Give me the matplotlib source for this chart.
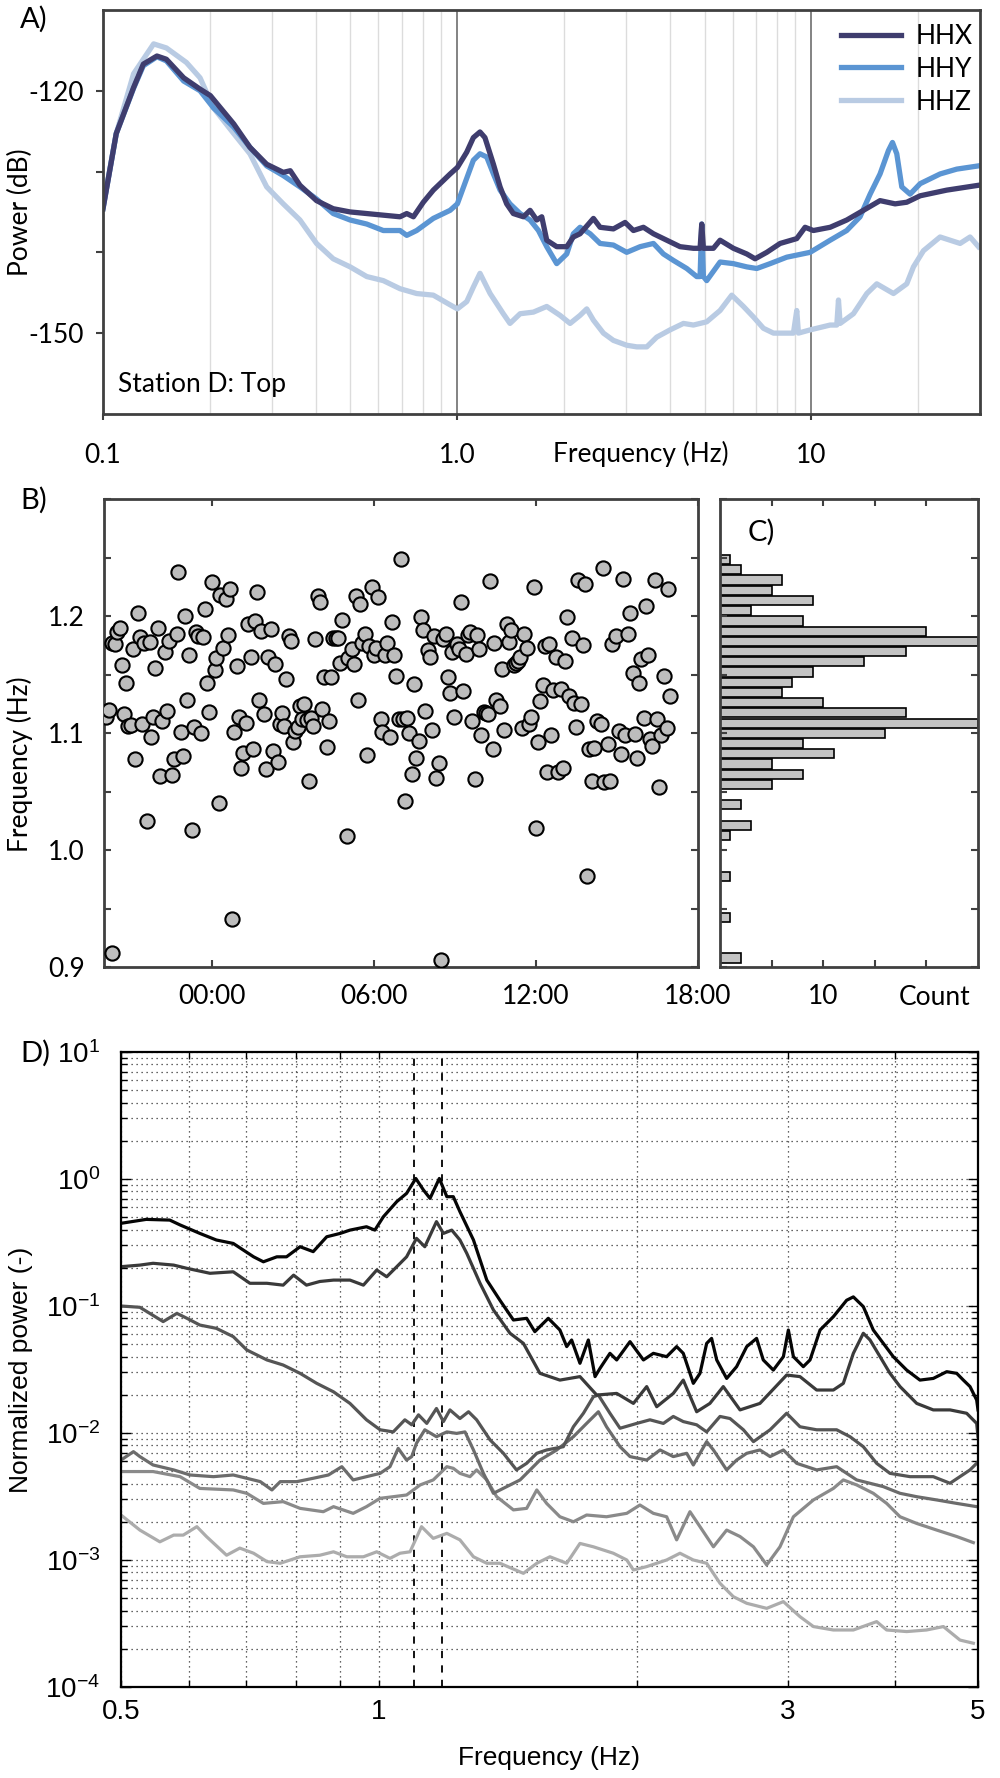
import numpy as np
import matplotlib.pyplot as plt
from matplotlib.ticker import FixedLocator, NullLocator, LogLocator, NullFormatter

plt.rcParams['font.family'] = ['Lato', 'DejaVu Sans']
plt.rcParams['font.size'] = 19
plt.rcParams['axes.unicode_minus'] = False
plt.rcParams['mathtext.fontset'] = 'custom'
plt.rcParams['mathtext.rm'] = 'Liberation Sans'
plt.rcParams['mathtext.it'] = 'Liberation Sans:italic'
plt.rcParams['mathtext.bf'] = 'Liberation Sans:bold'

# ---------------- A) spectra of the three components ----------------
hhx_f = [0.100, 0.109, 0.122, 0.130, 0.142, 0.151, 0.169, 0.188, 0.201, 0.234, 0.260, 0.290, 0.323, 0.338,
         0.360, 0.401, 0.447, 0.499, 0.556, 0.619, 0.690, 0.721, 0.753, 0.803, 0.857, 0.956, 1.002, 1.065,
         1.112, 1.161, 1.199, 1.267, 1.323, 1.381, 1.442, 1.540, 1.608, 1.679, 1.735, 1.792, 1.912, 2.041,
         2.131, 2.226, 2.428, 2.535, 2.765, 2.983, 3.149, 3.361, 3.587, 3.911, 4.265, 4.652, 4.858, 4.911,
         4.965, 5.298, 5.533, 6.034, 6.582, 6.948, 7.496, 8.175, 9.110, 9.618, 10.15, 11.32, 12.61, 14.06,
         15.66, 17.27, 18.63, 20.33, 24.17, 29.70]
hhx_db = [-134.6, -125.3, -119.6, -116.7, -115.7, -116.1, -118.4, -119.8, -120.6, -124.1, -127.0, -129.1,
          -130.1, -129.9, -131.7, -133.6, -134.6, -135.0, -135.2, -135.4, -135.6, -135.2, -135.6, -133.8,
          -132.3, -130.3, -129.5, -127.6, -125.8, -125.1, -125.8, -129.1, -131.9, -134.0, -135.2, -135.6,
          -134.8, -136.0, -135.6, -138.5, -139.3, -139.3, -138.1, -137.7, -135.8, -136.9, -137.1, -136.3,
          -137.3, -136.9, -137.7, -138.5, -139.3, -139.5, -139.5, -136.5, -139.5, -139.5, -138.5, -139.5,
          -140.2, -140.8, -140.0, -138.9, -138.3, -136.9, -137.3, -136.9, -136.0, -134.8, -133.6, -134.0,
          -133.8, -133.0, -132.3, -131.7]

hhy_f = [0.100, 0.109, 0.122, 0.130, 0.142, 0.151, 0.169, 0.188, 0.205, 0.234, 0.260, 0.290, 0.323, 0.360,
         0.401, 0.447, 0.499, 0.556, 0.619, 0.690, 0.721, 0.769, 0.857, 0.956, 1.002, 1.112, 1.161, 1.213,
         1.267, 1.323, 1.411, 1.507, 1.608, 1.698, 1.792, 1.912, 2.041, 2.131, 2.226, 2.376, 2.535, 2.765,
         3.015, 3.289, 3.587, 3.827, 4.084, 4.455, 4.754, 4.858, 4.911, 4.965, 5.072, 5.533, 6.034, 6.582,
         7.024, 7.660, 8.537, 9.936, 11.32, 12.61, 13.75, 14.68, 15.66, 16.54, 16.98, 17.46, 18.04, 19.04,
         20.33, 23.14, 25.79, 29.70]
hhy_db = [-134.6, -125.3, -119.7, -116.9, -115.8, -116.3, -118.8, -120.0, -122.1, -124.5, -127.0, -129.3,
          -130.5, -131.9, -133.4, -135.2, -136.0, -136.5, -137.3, -137.3, -137.9, -137.3, -135.8, -134.8,
          -134.0, -128.6, -127.8, -128.2, -130.3, -132.3, -134.0, -135.2, -136.0, -137.3, -139.3, -141.4,
          -140.2, -137.7, -136.9, -137.7, -138.9, -139.1, -140.0, -139.3, -138.9, -140.2, -141.0, -142.0,
          -143.0, -143.0, -136.5, -143.0, -143.5, -141.2, -141.4, -141.8, -142.0, -141.4, -140.6, -140.0,
          -138.5, -137.3, -135.6, -132.8, -130.3, -127.4, -126.4, -127.8, -131.9, -132.8, -131.5, -130.3,
          -129.7, -129.3]

hhz_f = [0.100, 0.109, 0.122, 0.139, 0.151, 0.172, 0.188, 0.205, 0.234, 0.260, 0.290, 0.323, 0.360, 0.401,
         0.447, 0.499, 0.556, 0.619, 0.690, 0.769, 0.857, 0.956, 1.002, 1.065, 1.112, 1.161, 1.240, 1.351,
         1.411, 1.507, 1.643, 1.792, 1.954, 2.086, 2.226, 2.325, 2.428, 2.591, 2.765, 3.015, 3.218, 3.435,
         3.664, 3.996, 4.360, 4.652, 5.072, 5.533, 5.969, 6.441, 6.873, 7.335, 7.829, 8.915, 9.110, 9.210,
         9.936, 11.32, 11.82, 11.95, 12.08, 13.17, 14.37, 15.33, 17.09, 18.63, 19.46, 20.77, 23.14, 26.36,
         28.13, 29.70]
hhz_db = [-134.4, -125.3, -117.9, -114.2, -114.7, -116.5, -118.4, -122.1, -125.3, -127.8, -131.9, -134.0,
          -136.0, -138.9, -140.8, -141.8, -143.0, -143.5, -144.5, -145.1, -145.3, -146.5, -147.0, -146.1,
          -144.3, -142.6, -145.1, -147.6, -148.8, -147.6, -147.4, -146.7, -147.8, -148.8, -147.8, -147.0,
          -148.4, -150.0, -150.9, -151.5, -151.7, -151.7, -150.5, -149.6, -148.8, -149.0, -148.6, -147.2,
          -145.3, -146.7, -148.0, -149.4, -150.0, -150.0, -147.2, -150.0, -149.6, -149.0, -149.0, -145.9,
          -148.8, -147.6, -145.1, -143.9, -145.1, -143.9, -141.8, -139.8, -138.1, -138.9, -138.1, -139.3]

# ---------------- B) peak frequency over time (hours relative to 00:00) ----------------
peak_hour = [-3.94, -3.81, -3.72, -3.69, -3.59, -3.51, -3.42, -3.32, -3.25, -3.17,
             -3.10, -3.00, -2.91, -2.85, -2.75, -2.68, -2.58, -2.51, -2.41, -2.31,
             -2.25, -2.17, -2.10, -1.99, -1.91, -1.84, -1.74, -1.65, -1.58, -1.49,
             -1.41, -1.31, -1.25, -1.16, -1.07, -1.00, -0.91, -0.84, -0.75, -0.67,
             -0.59, -0.51, -0.42, -0.33, -0.25, -0.17, -0.10, 0.00, 0.11, 0.16,
             0.25, 0.31, 0.42, 0.51, 0.58, 0.65, 0.83, 0.75, 0.91, 0.99,
             1.07, 1.16, 1.25, 1.33, 1.44, 1.52, 1.58, 1.65, 1.74, 1.83,
             1.93, 2.00, 2.07, 2.17, 2.26, 2.33, 2.43, 2.51, 2.58, 2.68,
             2.75, 2.85, 2.93, 3.00, 3.09, 3.17, 3.25, 3.35, 3.42, 3.51,
             3.59, 3.67, 3.74, 3.83, 3.91, 4.00, 4.09, 4.16, 4.27, 4.33,
             4.42, 4.49, 4.58, 4.67, 4.73, 4.83, 4.99, 5.05, 5.17, 5.26,
             5.32, 5.41, 5.47, 5.56, 5.65, 5.74, 5.81, 5.91, 6.00, 6.07,
             6.15, 6.26, 6.31, 6.40, 6.47, 6.58, 6.68, 6.75, 6.80, 6.91,
             6.99, 7.07, 7.16, 7.23, 7.31, 7.40, 7.48, 7.57, 7.67, 7.74,
             7.81, 7.90, 7.99, 8.06, 8.15, 8.22, 8.31, 8.41, 8.48, 8.57,
             8.65, 8.74, 8.81, 8.90, 8.98, 9.06, 9.14, 9.22, 9.31, 9.40,
             9.48, 9.56, 9.64, 9.73, 9.81, 9.89, 9.98, 10.07, 10.16, 10.23,
             10.30, 10.40, 10.44, 10.53,
             10.67, 10.73, 10.83, 10.91, 10.99, 11.07, 11.17, 11.26, 11.35, 11.42,
             11.48, 11.57, 11.67, 11.75, 11.83, 11.91, 12.00, 12.07, 12.16, 12.25,
             12.32, 12.41, 12.49, 12.57, 12.64, 12.74, 12.83, 12.91, 12.99, 13.09,
             13.16, 13.23, 13.33, 13.40, 13.48, 13.56, 13.67, 13.75, 13.83, 13.89,
             13.98, 14.07, 14.16, 14.26, 14.40, 14.49, 14.53, 14.65, 14.74, 14.81,
             14.96, 15.06, 15.16, 15.23, 15.31, 15.41, 15.48, 15.58, 15.65, 15.73,
             15.83, 15.90, 15.99, 16.06, 16.16, 16.23, 16.31, 16.40, 16.49, 16.57,
             16.64, 16.74, 16.84, 16.90, 16.98]
peak_freq = [1.114, 1.120, 0.912, 1.177, 1.176, 1.186, 1.190, 1.158, 1.116, 1.143,
             1.106, 1.107, 1.172, 1.078, 1.203, 1.182, 1.108, 1.177, 1.025, 1.178,
             1.097, 1.114, 1.156, 1.190, 1.063, 1.110, 1.169, 1.119, 1.179, 1.064,
             1.078, 1.185, 1.238, 1.101, 1.080, 1.200, 1.128, 1.167, 1.017, 1.105,
             1.186, 1.183, 1.100, 1.182, 1.206, 1.143, 1.118, 1.229, 1.154, 1.164,
             1.040, 1.218, 1.173, 1.215, 1.184, 1.223, 1.101, 0.941, 1.157, 1.114,
             1.070, 1.083, 1.109, 1.193, 1.165, 1.086, 1.196, 1.221, 1.128, 1.187,
             1.116, 1.069, 1.165, 1.189, 1.085, 1.159, 1.075, 1.108, 1.117, 1.106,
             1.146, 1.183, 1.179, 1.092, 1.102, 1.105, 1.123, 1.112, 1.125, 1.111,
             1.059, 1.113, 1.106, 1.180, 1.217, 1.212, 1.121, 1.148, 1.088, 1.110,
             1.148, 1.181, 1.181, 1.181, 1.160, 1.197, 1.012, 1.164, 1.172, 1.159,
             1.217, 1.128, 1.210, 1.177, 1.185, 1.081, 1.174, 1.225, 1.167, 1.173,
             1.216, 1.112, 1.101, 1.167, 1.177, 1.097, 1.195, 1.167, 1.149, 1.112,
             1.249, 1.112, 1.042, 1.113, 1.100, 1.065, 1.142, 1.079, 1.093, 1.199,
             1.188, 1.119, 1.171, 1.165, 1.103, 1.183, 1.062, 1.074, 0.906, 1.180,
             1.185, 1.148, 1.134, 1.169, 1.114, 1.176, 1.172, 1.212, 1.136, 1.168,
             1.184, 1.186, 1.110, 1.061, 1.184, 1.172, 1.098, 1.118, 1.117, 1.116,
             1.230, 1.086, 1.177, 1.128,
             1.123, 1.155, 1.103, 1.193, 1.178, 1.188, 1.158, 1.160, 1.162, 1.165,
             1.104, 1.185, 1.173, 1.108, 1.114, 1.225, 1.019, 1.092, 1.127, 1.141,
             1.174, 1.067, 1.176, 1.098, 1.137, 1.165, 1.067, 1.138, 1.070, 1.162,
             1.199, 1.132, 1.181, 1.126, 1.105, 1.231, 1.125, 1.175, 1.227, 0.978,
             1.086, 1.059, 1.087, 1.110, 1.108, 1.241, 1.058, 1.091, 1.059, 1.176,
             1.183, 1.102, 1.082, 1.232, 1.098, 1.185, 1.203, 1.151, 1.099, 1.079,
             1.143, 1.163, 1.113, 1.209, 1.167, 1.095, 1.089, 1.231, 1.112, 1.054,
             1.098, 1.149, 1.104, 1.223, 1.132]

# ---------------- C) histogram (40 bins, bottom to top) ----------------
hist_lo, hist_hi = 0.9033, 1.2526
hist_counts = [2, 0, 0, 0, 1, 0, 0, 0, 1, 0, 0, 0, 1, 3, 0, 2, 0, 5, 8, 5,
               11, 8, 16, 25, 18, 10, 6, 7, 9, 14, 18, 25, 20, 8, 3, 9, 5, 6, 2, 1]

# ---------------- D) normalized spectra ----------------
d1_f = [0.500, 0.535, 0.570, 0.586, 0.618, 0.646, 0.676, 0.714, 0.733, 0.760, 0.780, 0.809, 0.838, 0.869,
        0.901, 0.925, 0.967, 0.989, 1.012, 1.049, 1.077, 1.104, 1.127, 1.147, 1.176, 1.200, 1.221, 1.243,
        1.289, 1.336, 1.384, 1.435, 1.487, 1.520, 1.576, 1.626, 1.656, 1.678, 1.716, 1.755, 1.787, 1.811,
        1.860, 1.894, 1.963, 2.035, 2.090, 2.166, 2.225, 2.265, 2.327, 2.369, 2.412, 2.444, 2.478, 2.545,
        2.614, 2.686, 2.758, 2.808, 2.885, 2.964, 3.004, 3.045, 3.127, 3.184, 3.271, 3.390, 3.513, 3.577,
        3.674, 3.774, 3.877, 3.982, 4.128, 4.278, 4.434, 4.597, 4.722, 4.807, 4.894, 4.982, 5.0]
d1_v = [0.448, 0.481, 0.475, 0.435, 0.373, 0.331, 0.311, 0.244, 0.223, 0.244, 0.244, 0.293, 0.268, 0.351,
        0.373, 0.396, 0.421, 0.396, 0.505, 0.664, 0.771, 1.01, 0.819, 0.704, 1.01, 0.726, 0.726, 0.553,
        0.331, 0.160, 0.111, 0.0776, 0.0800, 0.0628, 0.0800, 0.0647, 0.0479, 0.0540, 0.0354, 0.0540, 0.0278,
        0.0323, 0.0424, 0.0376, 0.0524, 0.0376, 0.0424, 0.0399, 0.0479, 0.0424, 0.0246, 0.0295, 0.0508,
        0.0556, 0.0376, 0.0269, 0.0333, 0.0479, 0.0556, 0.0376, 0.0313, 0.0399, 0.0647, 0.0399, 0.0333,
        0.0376, 0.0647, 0.0824, 0.111, 0.118, 0.0989, 0.0647, 0.0508, 0.0399, 0.0313, 0.0261, 0.0269,
        0.0304, 0.0295, 0.0261, 0.0232, 0.0182, 0.0152]

d2_f = [0.500, 0.526, 0.545, 0.576, 0.597, 0.635, 0.676, 0.707, 0.740, 0.773, 0.795, 0.823, 0.853, 0.885,
        0.925, 0.959, 0.994, 1.021, 1.049, 1.077, 1.106, 1.131, 1.167, 1.189, 1.216, 1.243, 1.266, 1.312,
        1.360, 1.422, 1.474, 1.541, 1.626, 1.716, 1.795, 1.894, 1.981, 2.053, 2.109, 2.205, 2.265, 2.348,
        2.433, 2.522, 2.638, 2.783, 2.990, 3.099, 3.241, 3.390, 3.482, 3.577, 3.674, 3.741, 3.843, 3.947,
        4.055, 4.241, 4.434, 4.638, 4.850, 4.982, 5.0]
d2_v = [0.204, 0.210, 0.217, 0.210, 0.198, 0.181, 0.186, 0.151, 0.151, 0.146, 0.175, 0.146, 0.156, 0.160,
        0.160, 0.146, 0.192, 0.170, 0.204, 0.244, 0.341, 0.293, 0.462, 0.373, 0.396, 0.331, 0.260, 0.151,
        0.0931, 0.0610, 0.0508, 0.0295, 0.0261, 0.0278, 0.0199, 0.0205, 0.0171, 0.0232, 0.0161, 0.0205,
        0.0261, 0.0147, 0.0171, 0.0232, 0.0152, 0.0171, 0.0286, 0.0278, 0.0218, 0.0218, 0.0246, 0.0424,
        0.0610, 0.0540, 0.0399, 0.0295, 0.0232, 0.0171, 0.0152, 0.0152, 0.0143, 0.0119, 0.0094]

d3_f = [0.500, 0.526, 0.560, 0.581, 0.597, 0.618, 0.646, 0.676, 0.701, 0.740, 0.773, 0.809, 0.846, 0.885,
        0.925, 0.967, 1.003, 1.039, 1.072, 1.092, 1.112, 1.137, 1.167, 1.189, 1.210, 1.243, 1.272, 1.300,
        1.348, 1.397, 1.447, 1.487, 1.528, 1.569, 1.641, 1.686, 1.732, 1.779, 1.803, 1.860, 1.911, 1.999,
        2.071, 2.147, 2.205, 2.265, 2.348, 2.412, 2.500, 2.568, 2.662, 2.735, 2.860, 2.990, 3.099, 3.241,
        3.420, 3.545, 3.674, 3.808, 3.947, 4.166, 4.434, 4.638, 4.894, 4.982]
d3_v = [0.100, 0.0977, 0.0754, 0.0875, 0.0800, 0.0708, 0.0667, 0.0574, 0.0451, 0.0376, 0.0343, 0.0295,
        0.0246, 0.0211, 0.0171, 0.0127, 0.0106, 0.0102, 0.0127, 0.0116, 0.0139, 0.0119, 0.0156, 0.0123,
        0.0152, 0.0130, 0.0147, 0.0127, 0.00881, 0.00692, 0.00512, 0.00577, 0.00692, 0.00735, 0.00780,
        0.0112, 0.0143, 0.0193, 0.0199, 0.0143, 0.0109, 0.0119, 0.0127, 0.0119, 0.0135, 0.0123, 0.0116,
        0.0102, 0.0135, 0.0130, 0.0106, 0.00855, 0.0106, 0.0143, 0.0112, 0.0106, 0.0106, 0.00935, 0.00780,
        0.00577, 0.00481, 0.00453, 0.00453, 0.00402, 0.00512, 0.00577]

d4_f = [0.500, 0.517, 0.526, 0.545, 0.576, 0.602, 0.641, 0.676, 0.701, 0.727, 0.750, 0.767, 0.802, 0.838,
        0.873, 0.905, 0.933, 0.967, 1.003, 1.030, 1.053, 1.077, 1.092, 1.106, 1.131, 1.167, 1.200, 1.232,
        1.260, 1.289, 1.324, 1.360, 1.461, 1.541, 1.612, 1.686, 1.747, 1.803, 1.843, 1.911, 1.963, 2.053,
        2.128, 2.205, 2.286, 2.327, 2.412, 2.456, 2.545, 2.614, 2.686, 2.783, 2.860, 2.964, 3.072, 3.241,
        3.420, 3.609, 3.877, 4.055, 4.241, 4.475, 4.722, 4.982]
d4_v = [0.00612, 0.00713, 0.00652, 0.00560, 0.00512, 0.00467, 0.00453, 0.00467, 0.00440, 0.00414, 0.00356,
        0.00414, 0.00414, 0.00440, 0.00467, 0.00543, 0.00427, 0.00453, 0.00481, 0.00543, 0.00757, 0.00612,
        0.00652, 0.00830, 0.0106, 0.00935, 0.0102, 0.00993, 0.0102, 0.00735, 0.00481, 0.00335, 0.00427,
        0.00612, 0.00735, 0.00935, 0.0119, 0.0147, 0.0112, 0.00780, 0.00652, 0.00612, 0.00735, 0.00652,
        0.00692, 0.00560, 0.00855, 0.00735, 0.00512, 0.00612, 0.00692, 0.00735, 0.00652, 0.00735, 0.00577,
        0.00512, 0.00543, 0.00427, 0.00378, 0.00335, 0.00315, 0.00297, 0.00279, 0.00263]

d5_f = [0.500, 0.526, 0.545, 0.586, 0.618, 0.676, 0.701, 0.733, 0.773, 0.809, 0.861, 0.885, 0.933, 0.967,
        1.003, 1.039, 1.077, 1.117, 1.157, 1.200, 1.221, 1.243, 1.277, 1.300, 1.336, 1.372, 1.435, 1.487,
        1.528, 1.569, 1.626, 1.686, 1.747, 1.843, 1.946, 2.016, 2.090, 2.166, 2.225, 2.306, 2.369, 2.456,
        2.545, 2.638, 2.735, 2.834, 2.937, 3.045, 3.213, 3.390, 3.482, 3.609, 3.774, 3.912, 4.055, 4.241,
        4.475, 4.722, 4.938]
d5_v = [0.00497, 0.00497, 0.00497, 0.00453, 0.00366, 0.00356, 0.00335, 0.00279, 0.00288, 0.00255, 0.00240,
        0.00263, 0.00233, 0.00263, 0.00306, 0.00315, 0.00325, 0.00390, 0.00427, 0.00543, 0.00527, 0.00481,
        0.00453, 0.00512, 0.00427, 0.00315, 0.00248, 0.00255, 0.00356, 0.00279, 0.00219, 0.00200, 0.00226,
        0.00219, 0.00233, 0.00271, 0.00233, 0.00219, 0.00144, 0.00240, 0.00183, 0.00127, 0.00172, 0.00153,
        0.00127, 0.000914, 0.00127, 0.00219, 0.00297, 0.00366, 0.00427, 0.00390, 0.00335, 0.00279, 0.00219,
        0.00194, 0.00172, 0.00153, 0.00137]

d6_f = [0.500, 0.526, 0.555, 0.576, 0.591, 0.613, 0.629, 0.664, 0.688, 0.714, 0.740, 0.767, 0.809, 0.853,
        0.885, 0.917, 0.959, 0.994, 1.030, 1.058, 1.087, 1.121, 1.157, 1.200, 1.243, 1.289, 1.336, 1.384,
        1.474, 1.528, 1.583, 1.656, 1.716, 1.779, 1.877, 1.946, 1.981, 2.053, 2.166, 2.245, 2.327, 2.412,
        2.500, 2.591, 2.686, 2.834, 2.964, 3.099, 3.213, 3.390, 3.577, 3.808, 3.912, 4.128, 4.355, 4.556,
        4.764, 4.938]
d6_v = [0.00226, 0.00172, 0.00139, 0.00157, 0.00157, 0.00183, 0.00153, 0.00109, 0.00124, 0.00113, 0.000971,
        0.000942, 0.00106, 0.00109, 0.00116, 0.00106, 0.00106, 0.00116, 0.00103, 0.00113, 0.00116, 0.00183,
        0.00148, 0.00162, 0.00144, 0.00106, 0.000942, 0.000942, 0.000785, 0.000942, 0.00106, 0.000942,
        0.00135, 0.00127, 0.00113, 0.00100, 0.000834, 0.000887, 0.00100, 0.00113, 0.00100, 0.000942,
        0.000655, 0.000514, 0.000456, 0.000416, 0.000470, 0.000358, 0.000299, 0.000281, 0.000281, 0.000327,
        0.000281, 0.000273, 0.000281, 0.000299, 0.000234, 0.000221]

peak_lines = [1.10, 1.185]

spine_col = '#404040'
fig = plt.figure(figsize=(10, 17.78), dpi=100)

# ---------------- panel A ----------------
axA = fig.add_axes([0.103, 0.7672, 0.877, 0.2272])
axA.set_xscale('log')
lz, = axA.plot(hhz_f, hhz_db, color='#b9cbe3', lw=3.8, solid_joinstyle='round')
ly, = axA.plot(hhy_f, hhy_db, color='#5b95d3', lw=3.8, solid_joinstyle='round')
lx, = axA.plot(hhx_f, hhx_db, color='#3f3d6e', lw=3.8, solid_joinstyle='round')
axA.set_xlim(0.1, 30)
axA.set_ylim(-160, -110)
axA.xaxis.set_major_locator(FixedLocator([0.1, 1, 10]))
axA.set_xticklabels(['0.1', '1.0', '10'])
axA.xaxis.set_minor_locator(LogLocator(base=10, subs=np.arange(2, 10), numticks=20))
axA.xaxis.set_minor_formatter(NullFormatter())
axA.set_yticks([-150, -140, -130, -120])
axA.set_yticklabels(['-150', '', '', '-120'])
axA.grid(True, which='minor', axis='x', color='#dcdcdc', lw=1.0)
axA.grid(True, which='major', axis='x', color='#6e6e6e', lw=1.2)
axA.set_axisbelow(True)
axA.tick_params(axis='x', which='major', direction='out', length=4, width=1.5, color=spine_col, pad=17)
axA.tick_params(axis='x', which='minor', length=0)
axA.tick_params(axis='y', direction='out', length=5, width=1.5, color=spine_col, pad=9)
for s in axA.spines.values():
    s.set_color(spine_col)
    s.set_linewidth(2)
axA.set_ylabel('Power (dB)')
axA.yaxis.set_label_coords(-0.080, 0.5)
axA.text(0.613, -0.119, 'Frequency (Hz)', transform=axA.transAxes, ha='center', va='baseline')
axA.text(0.017, 0.074, 'Station D: Top', transform=axA.transAxes, ha='left', va='center')
axA.legend([lx, ly, lz], ['HHX', 'HHY', 'HHZ'], loc='upper right', bbox_to_anchor=(1.01, 1.005),
           frameon=False, handlelength=2.3, handletextpad=0.55, labelspacing=0.3, borderaxespad=0.2)

# ---------------- panel B ----------------
axB = fig.add_axes([0.104, 0.4561, 0.594, 0.2632])
axB.scatter(peak_hour, peak_freq, s=105, facecolor='#bdbdbd', edgecolor='k', linewidth=1.5, zorder=3)
axB.set_xlim(-4, 18)
axB.set_ylim(0.9, 1.3)
axB.set_xticks([0, 6, 12, 18])
axB.set_xticklabels(['00:00', '06:00', '12:00', '18:00'])
ytk = [0.9, 0.95, 1.0, 1.05, 1.1, 1.15, 1.2, 1.25, 1.3]
axB.set_yticks(ytk)
axB.set_yticklabels(['0.9', '', '1.0', '', '1.1', '', '1.2', '', ''])
axB.tick_params(direction='in', length=5, width=1.5, color=spine_col, top=True, right=True)
axB.tick_params(axis='x', pad=12)
axB.tick_params(axis='y', pad=14)
for s in axB.spines.values():
    s.set_color(spine_col)
    s.set_linewidth(2)
axB.set_ylabel('Frequency (Hz)')
axB.yaxis.set_label_coords(-0.1195, 0.434)

# ---------------- panel C ----------------
axC = fig.add_axes([0.720, 0.4561, 0.258, 0.2632])
edges = np.linspace(hist_lo, hist_hi, len(hist_counts) + 1)
centers = 0.5 * (edges[:-1] + edges[1:])
axC.barh(centers, hist_counts, height=np.diff(edges) * 0.9, color='#c3c3c3', edgecolor='k', linewidth=1.2)
axC.set_xlim(0, 25)
axC.set_ylim(0.9, 1.3)
axC.set_xticks([5, 10, 15, 20])
axC.set_xticklabels(['', '10', '', ''])
axC.set_yticks(ytk)
axC.set_yticklabels([])
axC.tick_params(direction='in', length=5, width=1.5, color=spine_col, top=True, right=True)
axC.tick_params(axis='x', pad=12)
for s in axC.spines.values():
    s.set_color(spine_col)
    s.set_linewidth(2)
axC.text(0.83, -0.064, 'Count', transform=axC.transAxes, ha='center', va='center')

# panel letters
fig.text(0.020, 1 - 19 / 1778, 'A)', ha='left', va='center', fontsize=21)
fig.text(0.020, 1 - 500 / 1778, 'B)', ha='left', va='center', fontsize=21)
fig.text(0.748, 1 - 532 / 1778, 'C)', ha='left', va='center', fontsize=21)
fig.text(0.020, 1 - 1053 / 1778, 'D)', ha='left', va='center', fontsize=21)

# ---------------- panel D ----------------
axD = fig.add_axes([0.121, 0.0512, 0.857, 0.3571])
axD.set_xscale('log')
axD.set_yscale('log')
curves = [(d6_f, d6_v, '#acacac'), (d5_f, d5_v, '#8a8a8a'), (d4_f, d4_v, '#6c6c6c'),
          (d3_f, d3_v, '#555555'), (d2_f, d2_v, '#3a3a3a'), (d1_f, d1_v, '#050505')]
for f, v, c in curves:
    axD.plot(f, v, color=c, lw=2.3, solid_joinstyle='round')
for x in peak_lines:
    axD.axvline(x, color='k', ls=(0, (4, 4)), lw=1.3, zorder=1)
axD.set_xlim(0.5, 5)
axD.set_ylim(1e-4, 10)
axD.xaxis.set_major_locator(FixedLocator([0.5, 0.6, 0.7, 0.8, 0.9, 1, 2, 3, 4, 5]))
axD.xaxis.set_minor_locator(NullLocator())
axD.set_xticklabels(['0.5', '', '', '', '', '1', '', '3', '', '5'])
axD.yaxis.set_major_locator(FixedLocator([1e-4, 1e-3, 1e-2, 1e-1, 1, 10]))
axD.set_yticklabels([r'$\mathrm{10^{-4}}$', r'$\mathrm{10^{-3}}$', r'$\mathrm{10^{-2}}$',
                     r'$\mathrm{10^{-1}}$', r'$\mathrm{10^{0}}$', r'$\mathrm{10^{1}}$'])
axD.yaxis.set_minor_locator(LogLocator(base=10, subs=np.arange(2, 10), numticks=20))
axD.yaxis.set_minor_formatter(NullFormatter())
axD.grid(True, which='major', ls=(0, (1, 3)), color='#333333', lw=0.9)
axD.grid(True, which='minor', axis='y', ls=(0, (1, 3)), color='#333333', lw=0.9)
axD.set_axisbelow(True)
axD.tick_params(which='both', direction='in', top=True, right=True, color='k', width=1.0,
                labelsize=20, labelfontfamily='Liberation Sans')
axD.tick_params(axis='x', which='major', length=5, pad=9)
axD.tick_params(axis='y', which='major', length=7, pad=15)
axD.tick_params(axis='y', which='minor', length=4)
for s in axD.spines.values():
    s.set_color('k')
    s.set_linewidth(1.6)
axD.set_ylabel('Normalized power (-)', family='Liberation Sans', fontsize=19)
axD.yaxis.set_label_coords(-0.103, 0.5)
axD.set_xlabel('Frequency (Hz)', family='Liberation Sans', fontsize=19)
axD.xaxis.set_label_coords(0.5, -0.093)

fig.savefig('out.png', dpi=100)
